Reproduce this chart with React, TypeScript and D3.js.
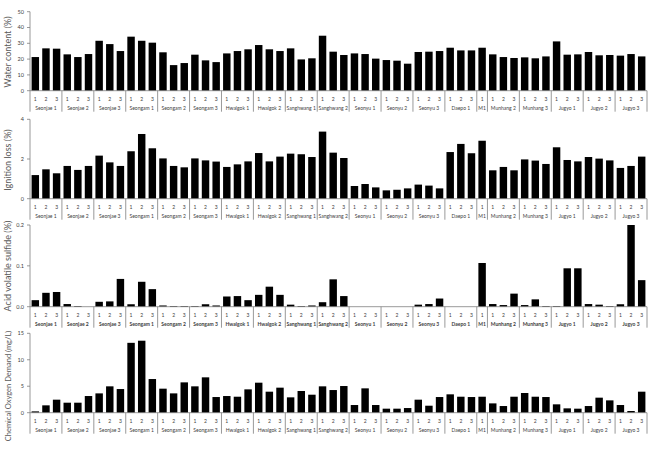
import React from "react";
import * as d3 from "d3";

const groups = [
  "Seonjae 1", "Seonjae 2", "Seonjae 3", "Seongam 1", "Seongam 2", "Seongam 3",
  "Hwalgok 1", "Hwalgok 2", "Sanghwang 1", "Sanghwang 2", "Seonyu 1", "Seonyu 2",
  "Seonyu 3", "Daepo 1", "M1", "Munhang 2", "Munhang 3", "Jugyo 1", "Jugyo 2", "Jugyo 3",
];
const replicates = [3, 3, 3, 3, 3, 3, 3, 3, 3, 3, 3, 3, 3, 3, 1, 3, 3, 3, 3, 3];

const waterContent = [
  21.3, 26.8, 26.6, 23.0, 21.3, 23.2, 31.6, 29.5, 25.1, 34.2, 31.6, 30.4,
  24.3, 16.2, 17.5, 22.8, 19.2, 18.1, 23.6, 25.1, 26.2, 28.9, 26.2, 25.1,
  26.8, 19.8, 20.5, 34.8, 24.7, 22.6, 23.6, 23.2, 20.3, 19.4, 19.0, 17.1,
  24.5, 24.7, 25.1, 27.2, 25.5, 25.5, 27.2, 23.0, 21.3, 20.7, 21.1, 20.5,
  21.7, 31.2, 22.8, 23.0, 24.5, 22.4, 22.6, 22.2, 23.2, 21.7,
];
const ignitionLoss = [
  1.19, 1.48, 1.28, 1.65, 1.45, 1.65, 2.17, 1.83, 1.65, 2.39, 3.26, 2.54,
  2.03, 1.65, 1.58, 2.03, 1.93, 1.87, 1.6, 1.73, 1.88, 2.3, 1.88, 2.12,
  2.27, 2.24, 2.1, 3.38, 2.32, 2.05, 0.64, 0.74, 0.57, 0.42, 0.45, 0.52,
  0.71, 0.66, 0.52, 2.35, 2.76, 2.29, 2.92, 1.43, 1.6, 1.43, 1.98, 1.92,
  1.75, 2.59, 1.95, 1.88, 2.1, 2.02, 1.93, 1.55, 1.65, 2.12,
];
const acidVolatileSulfide = [
  0.016, 0.034, 0.036, 0.0065, 0.0016, 0, 0.012, 0.013, 0.068, 0.006, 0.061, 0.043,
  0.003, 0.0016, 0.0016, 0.0016, 0.006, 0.003, 0.025, 0.026, 0.016, 0.029, 0.049, 0.029,
  0.005, 0.0016, 0.003, 0.011, 0.067, 0.026, 0, 0, 0, 0, 0, 0,
  0.005, 0.0065, 0.02, 0, 0, 0, 0.107, 0.0065, 0.004, 0.032, 0.004, 0.018,
  0.0016, 0.0016, 0.094, 0.094, 0.0065, 0.005, 0.0016, 0.006, 0.2, 0.065,
];
const chemicalOxygenDemand = [
  0.25, 1.39, 2.46, 1.89, 1.89, 3.15, 3.65, 4.98, 4.47, 13.2, 13.6, 6.36,
  4.54, 3.65, 5.73, 4.98, 6.68, 2.96, 3.15, 3.02, 4.41, 5.67, 3.97, 4.73,
  2.9, 4.1, 3.4, 4.98, 4.28, 5.04, 1.45, 4.6, 1.45, 0.76, 0.76, 0.88,
  2.46, 1.32, 2.96, 3.47, 3.02, 2.96, 3.02, 1.76, 1.26, 3.02, 3.72, 3.02,
  2.96, 1.58, 0.82, 0.76, 1.26, 2.84, 2.33, 1.45, 0.32, 3.97,
];

const waterTicks = [0, 10, 20, 30, 40, 50];
const ignitionTicks = [0, 2, 4];
const avsTicks = [0, 0.1, 0.2];
const codTicks = [0, 5, 10, 15];

const bars: { key: string; group: number; rep: number }[] = [];
groups.forEach((g, gi) => {
  for (let r = 1; r <= replicates[gi]; r++) bars.push({ key: `${g}-${r}`, group: gi, rep: r });
});

const panels = [
  { title: "Water content (%)", values: waterContent, ticks: waterTicks, fmt: (d: number) => String(d), top: 11.7, bottom: 90.7, boldNames: false, titleSize: 9, titleY: 52 },
  { title: "Ignition loss (%)", values: ignitionLoss, ticks: ignitionTicks, fmt: (d: number) => String(d), top: 119.3, bottom: 198.7, boldNames: false, titleSize: 9, titleY: 160 },
  { title: "Acid volatile sulfide (%)", values: acidVolatileSulfide, ticks: avsTicks, fmt: (d: number) => d.toFixed(1), top: 225, bottom: 306.7, boldNames: true, titleSize: 9, titleY: 266 },
  { title: "Chemical Oxygen Demand (mg/L)", values: chemicalOxygenDemand, ticks: codTicks, fmt: (d: number) => String(d), top: 333.3, bottom: 412.7, boldNames: false, titleSize: 7.5, titleY: 386 },
];

const X0 = 30;
const X1 = 647;
const FONT = "Lato, 'Open Sans', 'Liberation Sans', sans-serif";

export default function App() {
  const x = d3.scaleBand<string>().domain(bars.map((b) => b.key)).range([X0, X1]).paddingInner(0.3).paddingOuter(0.15);
  const step = x.step();
  const boundaries: number[] = [];
  const groupCenters: number[] = [];
  groups.forEach((g, gi) => {
    const gb = bars.filter((b) => b.group === gi);
    const first = x(gb[0].key)!;
    const last = x(gb[gb.length - 1].key)!;
    const left = first - (step - x.bandwidth()) / 2;
    const right = last + x.bandwidth() + (step - x.bandwidth()) / 2;
    if (gi > 0) boundaries.push(left);
    groupCenters.push((left + right) / 2);
  });
  boundaries.push(X1);

  return (
    <svg width={660} height={450} style={{ position: "absolute", left: 0, top: 0, background: "#fff" }}>
      {panels.map((p, pi) => {
        const dmax = p.ticks[p.ticks.length - 1];
        const y = d3.scaleLinear().domain([0, dmax]).range([p.bottom, p.top]);
        const y0 = y(0);
        return (
          <g key={pi}>
            <text
              transform={`translate(11,${p.titleY}) rotate(-90)`}
              textAnchor="middle"
              fontFamily={FONT}
              fontSize={p.titleSize}
              fill="#595959"
            >
              {p.title}
            </text>
            {bars.map((b, i) => {
              const v = p.values[i];
              return (
                <rect
                  key={b.key}
                  x={x(b.key)}
                  y={y(v)}
                  width={x.bandwidth()}
                  height={Math.max(0, y0 - y(v))}
                  fill="#000"
                />
              );
            })}
            <line x1={X0} x2={X0} y1={p.top} y2={y0 + 21} stroke="#7f7f7f" strokeWidth={0.8} />
            {p.ticks.map((t) => (
              <g key={t}>
                <line x1={X0 - 3} x2={X0} y1={y(t)} y2={y(t)} stroke="#7f7f7f" strokeWidth={0.8} />
                <text x={X0 - 6} y={y(t)} dy="0.35em" textAnchor="end" fontFamily={FONT} fontSize={5.5} fill="#404040">
                  {p.fmt(t)}
                </text>
              </g>
            ))}
            <line x1={X0} x2={X1} y1={y0} y2={y0} stroke="#7f7f7f" strokeWidth={0.8} />
            {boundaries.map((bx, bi) => (
              <line key={bi} x1={bx} x2={bx} y1={y0} y2={y0 + 21} stroke="#7f7f7f" strokeWidth={0.8} />
            ))}
            {bars.map((b) => (
              <text
                key={b.key}
                x={x(b.key)! + x.bandwidth() / 2}
                y={y0 + 10}
                textAnchor="middle"
                fontFamily={FONT}
                fontSize={5}
                fill="#404040"
              >
                {b.rep}
              </text>
            ))}
            {groups.map((g, gi) => (
              <text
                key={g}
                x={groupCenters[gi]}
                y={y0 + 19}
                textAnchor="middle"
                fontFamily={FONT}
                fontSize={5}
                fontWeight={p.boldNames ? 700 : 400}
                fill="#404040"
              >
                {g}
              </text>
            ))}
          </g>
        );
      })}
    </svg>
  );
}
